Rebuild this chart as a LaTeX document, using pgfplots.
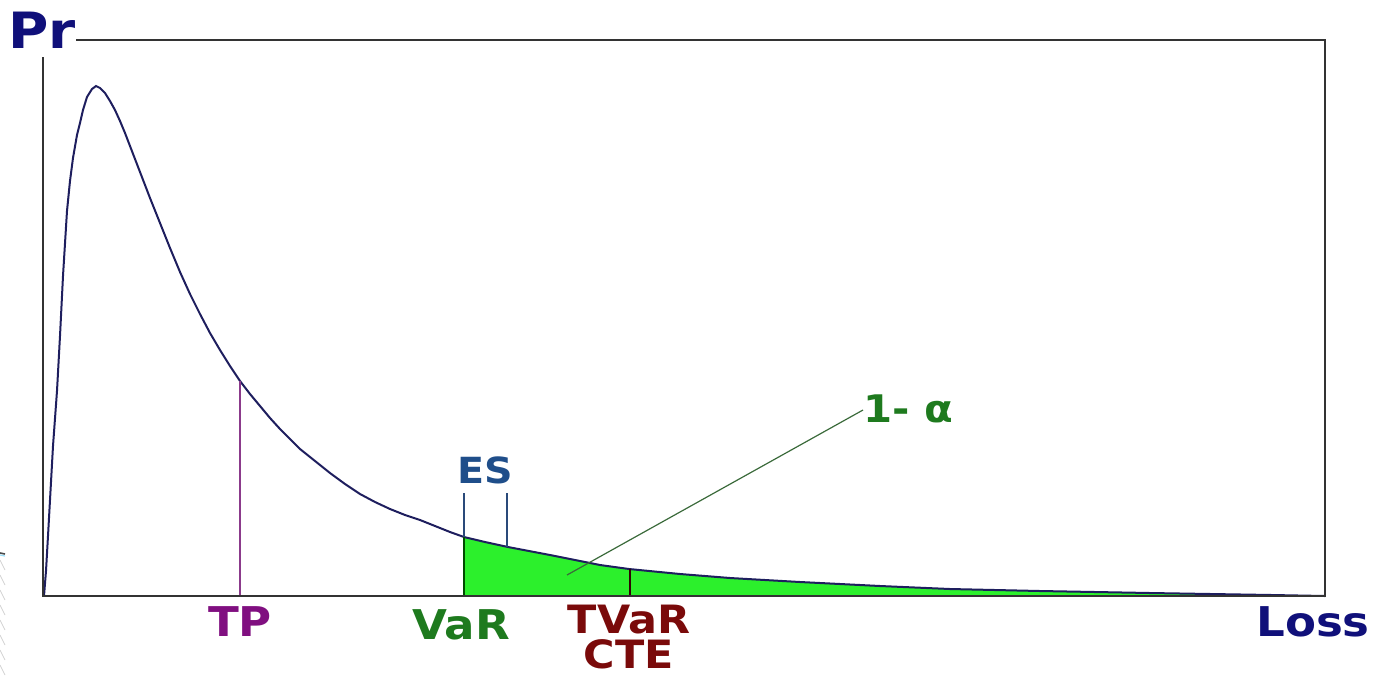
\documentclass[border=0pt]{standalone}
\usepackage{pgfplots}
\pgfplotsset{compat=1.18}
\usepackage{fontspec}
\setmainfont{DejaVu Sans}
\newfontfamily\lblfont[FakeStretch=1.1,BoldFont={DejaVu Sans Bold}]{DejaVu Sans}
\definecolor{navytext}{HTML}{10107A}
\definecolor{curvecol}{HTML}{1E1E5E}
\definecolor{boxcol}{HTML}{333333}
\definecolor{tpcol}{HTML}{800F80}
\definecolor{tplinecol}{HTML}{8B3A8B}
\definecolor{varcol}{HTML}{1E7A1E}
\definecolor{tvarcol}{HTML}{7A0A0A}
\definecolor{escol}{HTML}{1F4E8A}
\definecolor{eslinecol}{HTML}{2A4A7A}
\definecolor{fillcol}{HTML}{2CF02C}
\definecolor{leadcol}{HTML}{3A6A3A}
\begin{document}
\begin{tikzpicture}
\begin{axis}[
  scale only axis,
  width=641pt, height=278pt,
  xmin=43, xmax=1325, ymin=0, ymax=556,
  axis lines=none,
  clip=false,
]
% tail area (1 - alpha)
\addplot[fill=fillcol, draw=none] coordinates {
(464,59)(485,54)(508,49)(550,41)(600,31)(629,27)(680,22)(730,18)(800,14)(880,10)(950,7)(1040,5)(1150,3)(1272,1)(1272,0)
} \closedcycle;
% density curve
\addplot[curvecol, line width=1pt] coordinates {
(44,0)(46,25)(48,60)(50,96)(53,150)(57,205)(60,260)(63,320)(67,385)(70,415)(73,438)(77,461)(80,473)(83,486)(87,499)(92,507)(96,510)(100,508)(105,503)(110,495)(115,486)(120,475)(125,463)(130,450)(140,424)(150,398)(160,373)(170,348)(180,324)(190,302)(200,282)(210,263)(220,246)(230,230)(240,215)(250,202)(260,190)(270,178)(280,167)(290,157)(300,147)(315,135)(330,123)(345,112)(360,102)(375,94)(390,87)(405,81)(420,76)(435,70)(450,64)(464,59)(485,54)(508,49)(550,41)(600,31)(629,27)(680,22)(730,18)(800,14)(880,10)(950,7)(1040,5)(1150,3)(1272,1)(1325,0)
};
% TP
\addplot[tplinecol, line width=0.9pt] coordinates {(240,0)(240,215)};
% VaR edge
\addplot[black!70!green, line width=0.8pt] coordinates {(464,0)(464,59)};
% ES lines
\addplot[eslinecol, line width=0.9pt] coordinates {(464,59)(464,103)};
\addplot[eslinecol, line width=0.9pt] coordinates {(507,49)(507,103)};
% TVaR
\addplot[black!60!tvarcol, line width=0.8pt] coordinates {(630,0)(630,27)};
% leader for 1-alpha
\addplot[leadcol, line width=0.6pt] coordinates {(567,21)(863,186)};
% frame
\draw[boxcol, line width=1.1pt] (axis cs:76,556) -- (axis cs:1325,556) -- (axis cs:1325,0) -- (axis cs:43,0) -- (axis cs:43,539);
% slide decoration at the left edge
\draw[black!70, line width=0.8pt] (axis cs:0,43) -- (axis cs:5,42);
\draw[cyan!40, line width=0.6pt] (axis cs:0,41) -- (axis cs:5,40);
\draw[gray!35, line width=0.4pt] (axis cs:0,36) -- (axis cs:5,26);
\draw[gray!35, line width=0.4pt] (axis cs:0,21) -- (axis cs:5,11);
\draw[gray!35, line width=0.4pt] (axis cs:0,6) -- (axis cs:5,-4);
\draw[gray!35, line width=0.4pt] (axis cs:0,-9) -- (axis cs:5,-19);
\draw[gray!35, line width=0.4pt] (axis cs:0,-24) -- (axis cs:5,-34);
\draw[gray!35, line width=0.4pt] (axis cs:0,-39) -- (axis cs:5,-49);
\draw[gray!35, line width=0.4pt] (axis cs:0,-54) -- (axis cs:5,-64);
\draw[gray!35, line width=0.4pt] (axis cs:0,-69) -- (axis cs:5,-79);
% labels
\node[navytext] at (axis cs:42,566) {\lblfont\bfseries\fontsize{25}{27}\selectfont Pr};
\node[navytext] at (axis cs:1313,-26) {\lblfont\bfseries\fontsize{20.5}{22}\selectfont Loss};
\node[tpcol] at (axis cs:240,-26) {\lblfont\bfseries\fontsize{20.5}{22}\selectfont TP};
\node[varcol] at (axis cs:461,-29) {\lblfont\bfseries\fontsize{20.5}{22}\selectfont VaR};
\node[tvarcol, anchor=north, inner sep=0pt, align=center, font=\lblfont\bfseries\fontsize{19.5}{17.5}\selectfont] at (axis cs:629,-9) {TVaR\\CTE};
\node[escol] at (axis cs:485,126) {\lblfont\bfseries\fontsize{18}{20}\selectfont ES};
\node[varcol] at (axis cs:908,187) {\lblfont\bfseries\fontsize{19}{21}\selectfont 1- α};
\coordinate (bl) at (axis cs:0,-81);
\coordinate (tr) at (axis cs:1379,596);
\end{axis}
\pgfresetboundingbox
\path (bl) rectangle (tr);
\end{tikzpicture}
\end{document}
